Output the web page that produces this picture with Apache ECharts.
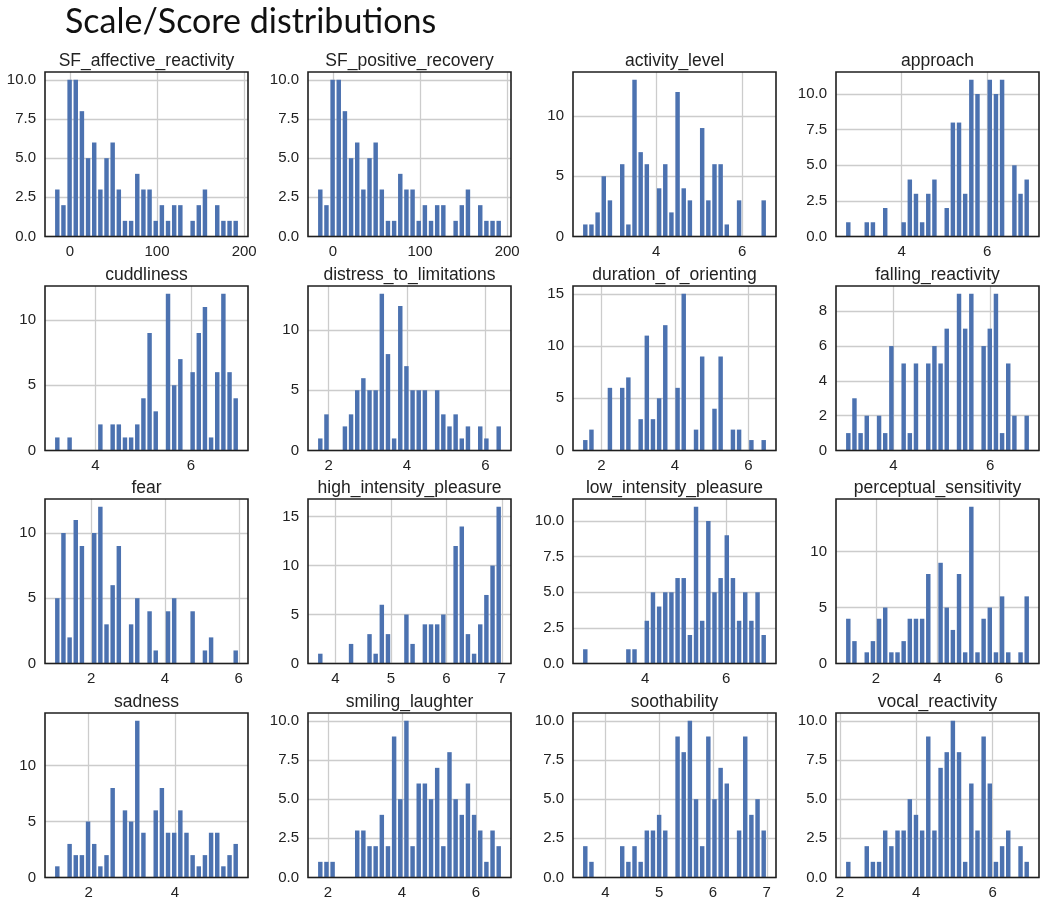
<!DOCTYPE html>
<html><head><meta charset="utf-8">
<script src="https://cdn.jsdelivr.net/npm/echarts@6/dist/echarts.min.js"></script>
<style>html,body{margin:0;padding:0;background:#fff}#chart{width:1050px;height:912px}</style>
</head><body><div id="chart"></div>
<script>
// ---- data ----
const mainTitle = 'Scale/Score distributions';
const panelNames = ['SF_affective_reactivity','SF_positive_recovery','activity_level','approach',
  'cuddliness','distress_to_limitations','duration_of_orienting','falling_reactivity',
  'fear','high_intensity_pleasure','low_intensity_pleasure','perceptual_sensitivity',
  'sadness','smiling_laughter','soothability','vocal_reactivity'];
// data range (min, max) of each histogram, 30 bins each
const binLow  = [-18, -18, 2.28, 2.68, 3.14, 1.71, 1.48, 3.0, 1.0, 3.67, 2.45, 1.0, 1.2, 1.71, 3.57, 2.14];
const binHigh = [193.8, 193.8, 6.57, 7.0, 7.0, 6.42, 6.5, 6.82, 6.0, 7.0, 7.0, 7.0, 5.48, 6.7, 7.0, 6.97];

const counts_SF_affective_reactivity = [3,2,10,10,8,5,6,3,5,6,3,1,1,4,3,3,1,2,1,2,2,0,1,2,3,0,2,1,1,1];
const counts_SF_positive_recovery    = [3,2,10,10,8,5,6,3,5,6,3,1,1,4,3,3,1,2,1,2,2,0,1,2,3,0,2,1,1,1];
const counts_activity_level          = [1,1,2,5,3,0,6,1,13,7,6,0,4,6,2,12,4,3,0,9,3,6,6,1,0,3,0,0,0,3];
const counts_approach                = [1,0,0,1,1,0,2,0,0,1,4,3,1,3,4,0,2,8,8,3,11,10,0,11,10,11,0,5,3,4];
const counts_cuddliness              = [1,0,1,0,0,0,0,2,0,2,2,1,1,2,4,9,3,0,12,5,7,0,6,9,11,1,6,12,6,4];
const counts_distress_to_limitations = [1,3,0,0,2,3,5,6,5,5,13,8,1,12,7,5,5,5,0,5,3,2,3,1,2,0,2,1,0,2];
const counts_duration_of_orienting   = [1,2,0,0,6,0,6,7,0,3,11,3,5,12,0,6,15,0,2,9,0,4,9,0,2,2,0,1,0,1];
const counts_falling_reactivity      = [1,3,1,2,0,2,1,6,0,5,1,5,0,5,6,5,7,0,9,7,9,0,6,7,9,1,5,2,0,2];
const counts_fear                    = [5,10,2,11,9,0,10,12,3,6,9,0,3,5,0,4,1,0,4,5,0,0,4,0,1,2,0,0,0,1];
const counts_high_intensity_pleasure = [1,0,0,0,0,2,0,0,3,1,6,3,0,0,5,2,0,4,4,4,5,0,12,14,3,1,4,7,10,16];
const counts_low_intensity_pleasure  = [1,0,0,0,0,0,0,1,1,0,3,5,4,5,5,6,6,2,11,3,10,5,6,9,6,3,5,3,5,2];
const counts_perceptual_sensitivity  = [4,2,0,1,2,4,5,1,1,2,4,4,4,8,0,9,5,3,8,1,14,1,4,5,1,6,1,0,1,6];
const counts_sadness                 = [1,0,3,2,2,5,3,1,2,8,0,6,5,14,4,0,6,8,4,4,6,4,2,1,2,4,4,1,2,3];
const counts_smiling_laughter        = [1,1,1,0,0,0,3,3,2,2,4,2,9,5,10,2,6,6,5,7,2,8,5,4,6,4,3,1,3,2];
const counts_soothability            = [2,1,0,0,0,0,2,1,2,1,3,3,4,3,0,9,8,10,5,2,9,5,7,6,0,3,9,4,5,3];
const counts_vocal_reactivity        = [1,0,0,2,1,1,3,2,3,3,5,4,3,9,3,7,8,10,8,1,6,3,9,6,1,2,3,0,2,1];

const xTicks = [[0,100,200],[0,100,200],[4,6],[4,6],[4,6],[2,4,6],[2,4,6],[4,6],
                [2,4,6],[4,5,6,7],[4,6],[2,4,6],[2,4],[2,4,6],[4,5,6,7],[2,4,6]];
const yTicks = [[0,2.5,5,7.5,10],[0,2.5,5,7.5,10],[0,5,10],[0,2.5,5,7.5,10],
                [0,5,10],[0,5,10],[0,5,10,15],[0,2,4,6,8],
                [0,5,10],[0,5,10,15],[0,2.5,5,7.5,10],[0,5,10],
                [0,5,10],[0,2.5,5,7.5,10],[0,2.5,5,7.5,10],[0,2.5,5,7.5,10]];
const yDecimals = [1,1,0,1, 0,0,0,0, 0,0,1,0, 0,1,1,1];

const allCounts = [counts_SF_affective_reactivity, counts_SF_positive_recovery, counts_activity_level, counts_approach,
  counts_cuddliness, counts_distress_to_limitations, counts_duration_of_orienting, counts_falling_reactivity,
  counts_fear, counts_high_intensity_pleasure, counts_low_intensity_pleasure, counts_perceptual_sensitivity,
  counts_sadness, counts_smiling_laughter, counts_soothability, counts_vocal_reactivity];

// ---- layout ----
const colLeft = [45, 308, 573, 836];
const rowTop = [72, 286, 499, 713];
const plotW = 203, plotH = 164.5;
const BAR = '#4c72b0';
const TXT = '#222222';
const FONT = 'Liberation Sans, Arial, sans-serif';

const grids = [], xAxes = [], yAxes = [], series = [], titles = [];
titles.push({text: mainTitle, left: 65, top: 1, padding: 0,
  textStyle: {fontFamily: 'Lato', fontWeight: 'normal', fontSize: 34, lineHeight: 42, color: '#111'}});

allCounts.forEach(function (cnt, i) {
  const r = Math.floor(i / 4), c = i % 4;
  const lo = binLow[i], hi = binHigh[i], n = cnt.length, w = (hi - lo) / n;
  const pad = (hi - lo) * 0.05;
  const maxC = Math.max.apply(null, cnt);
  grids.push({left: colLeft[c], top: rowTop[r], width: plotW, height: plotH, show: true,
    borderColor: '#1f1f1f', borderWidth: 1.6, backgroundColor: 'transparent', z: 10});
  xAxes.push({gridIndex: i, type: 'value', min: lo - pad, max: hi + pad,
    axisLine: {show: false}, axisTick: {show: false, customValues: xTicks[i]},
    axisLabel: {customValues: xTicks[i], margin: 8, fontSize: 15, color: TXT, fontFamily: FONT},
    splitLine: {show: true, lineStyle: {color: '#cccccc', width: 1.3}}});
  const dec = yDecimals[i];
  yAxes.push({gridIndex: i, type: 'value', min: 0, max: maxC * 1.05,
    axisLine: {show: false}, axisTick: {show: false, customValues: yTicks[i]},
    axisLabel: {customValues: yTicks[i], margin: 9, fontSize: 15, color: TXT, fontFamily: FONT,
      formatter: function (v) { return dec ? v.toFixed(1) : String(v); }},
    splitLine: {show: true, lineStyle: {color: '#cccccc', width: 1.3}}});
  const data = [];
  cnt.forEach(function (v, k) { if (v > 0) data.push([lo + k * w, v, lo + (k + 1) * w]); });
  series.push({type: 'custom', xAxisIndex: i, yAxisIndex: i, coordinateSystem: 'cartesian2d',
    encode: {x: [0, 2], y: 1}, data: data, silent: true, animation: false,
    renderItem: function (params, api) {
      const s = api.coord([api.value(0), api.value(1)]);
      const e = api.coord([api.value(2), 0]);
      return {type: 'rect', shape: {x: s[0] + 0.85, y: s[1], width: e[0] - s[0] - 1.7, height: e[1] - s[1]},
        style: {fill: BAR}};
    }});
  titles.push({text: panelNames[i], left: colLeft[c] + plotW / 2, top: rowTop[r] - 21, textAlign: 'center', padding: 0,
    textStyle: {fontFamily: FONT, fontWeight: 'normal', fontSize: 17.5, lineHeight: 20, color: TXT}});
});

const chart = echarts.init(document.getElementById('chart'), null, {renderer: 'canvas'});
chart.setOption({backgroundColor: '#fff', animation: false, title: titles,
  grid: grids, xAxis: xAxes, yAxis: yAxes, series: series});
</script></body></html>
